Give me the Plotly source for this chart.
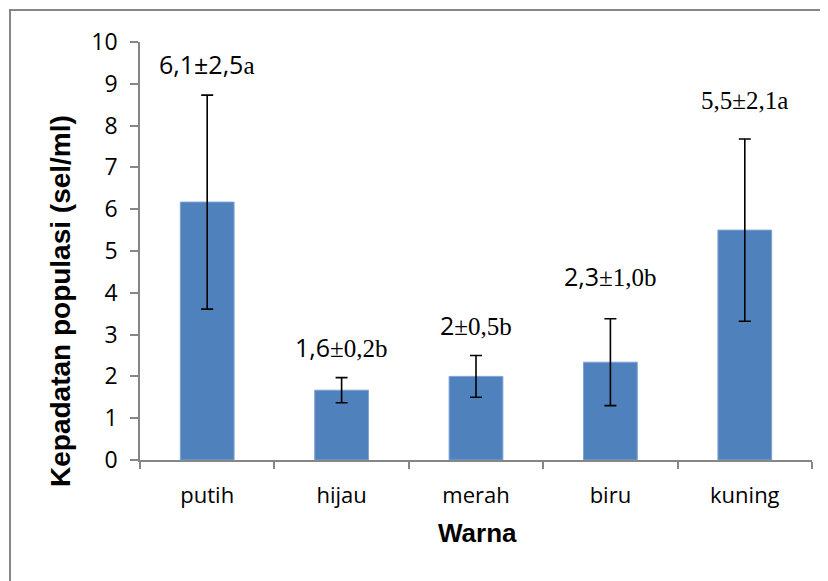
import plotly.graph_objects as go

categories = ["putih", "hijau", "merah", "biru", "kuning"]
means = [6.17, 1.67, 2.0, 2.34, 5.5]
errors = [2.56, 0.3, 0.5, 1.04, 2.18]
labels = [
    '<span style="font-family:Open Sans">6,1±2,5</span>a',
    '<span style="font-family:Open Sans">1,6</span>±0,2b',
    '<span style="font-family:Open Sans">2</span>±0,5b',
    '<span style="font-family:Open Sans">2,3</span>±1,0b',
    '5,5±2,1a',
]
label_shift = [12, 12, 12, 24, 23]
y_ticks = list(range(0, 11))

W, H = 828, 581
OFF = 8  # page body margin
# plot area in screen pixels
PX0, PX1, PY0, PY1 = 140, 812, 42, 460
L, T = PX0 - OFF, PY0 - OFF
R, B = W - (PX1 - OFF), H - (PY1 - OFF)
pw, ph = PX1 - PX0, PY1 - PY0


def px(x):
    return (x - PX0) / pw


def py(y):
    return (PY1 - y) / ph


fig = go.Figure()
fig.add_trace(go.Bar(
    x=categories, y=means, width=0.4,
    marker=dict(color="#4F81BD", line=dict(color="#7FA3D3", width=1)),
    error_y=dict(type="data", array=errors, visible=True, color="black",
                 thickness=1.6, width=6),
))

for c, m, e, t, s in zip(categories, means, errors, labels, label_shift):
    fig.add_annotation(x=c, y=m + e, text=t, showarrow=False, yanchor="bottom",
                       yshift=s, font=dict(family="Liberation Serif", size=25, color="black"))

# y axis title
fig.add_annotation(xref="paper", yref="paper", x=px(57), y=py(301),
                   xanchor="center", yanchor="middle", xshift=3,
                   text="<b>Kepadatan populasi (sel/ml)</b>", textangle=-90, showarrow=False,
                   font=dict(family="Liberation Sans", size=28, color="black"))
# x axis title
fig.add_annotation(xref="paper", yref="paper", x=px(477), y=py(533),
                   xanchor="center", yanchor="middle",
                   text="<b>Warna</b>", showarrow=False,
                   font=dict(family="Liberation Sans", size=26, color="black"))

# chart border
fig.add_shape(type="rect", xref="paper", yref="paper",
              x0=px(10), x1=px(W + 40), y0=py(H + 40), y1=py(10),
              line=dict(color="#868686", width=2), fillcolor="rgba(0,0,0,0)", layer="below")

axis_gray = "#868686"
fig.update_layout(
    width=W, height=H,
    margin=dict(l=L, r=R, t=T, b=B),
    paper_bgcolor="white", plot_bgcolor="white",
    showlegend=False,
    font=dict(family="Open Sans", size=22, color="black"),
)
fig.update_yaxes(range=[0, 10], tickvals=y_ticks, showgrid=False, zeroline=False,
                 showline=True, linecolor=axis_gray, linewidth=1.5,
                 ticks="outside", ticklen=8, tickcolor=axis_gray, tickwidth=1.5,
                 ticklabelstandoff=8, tickfont=dict(family="Open Sans", size=23))
fig.update_xaxes(showgrid=False, showline=True, linecolor=axis_gray, linewidth=1.5,
                 ticks="outside", tickson="boundaries", ticklen=7, tickcolor=axis_gray,
                 tickwidth=1.5, ticklabelstandoff=15, tickfont=dict(family="Open Sans", size=22))

fig.write_html("out.html")
